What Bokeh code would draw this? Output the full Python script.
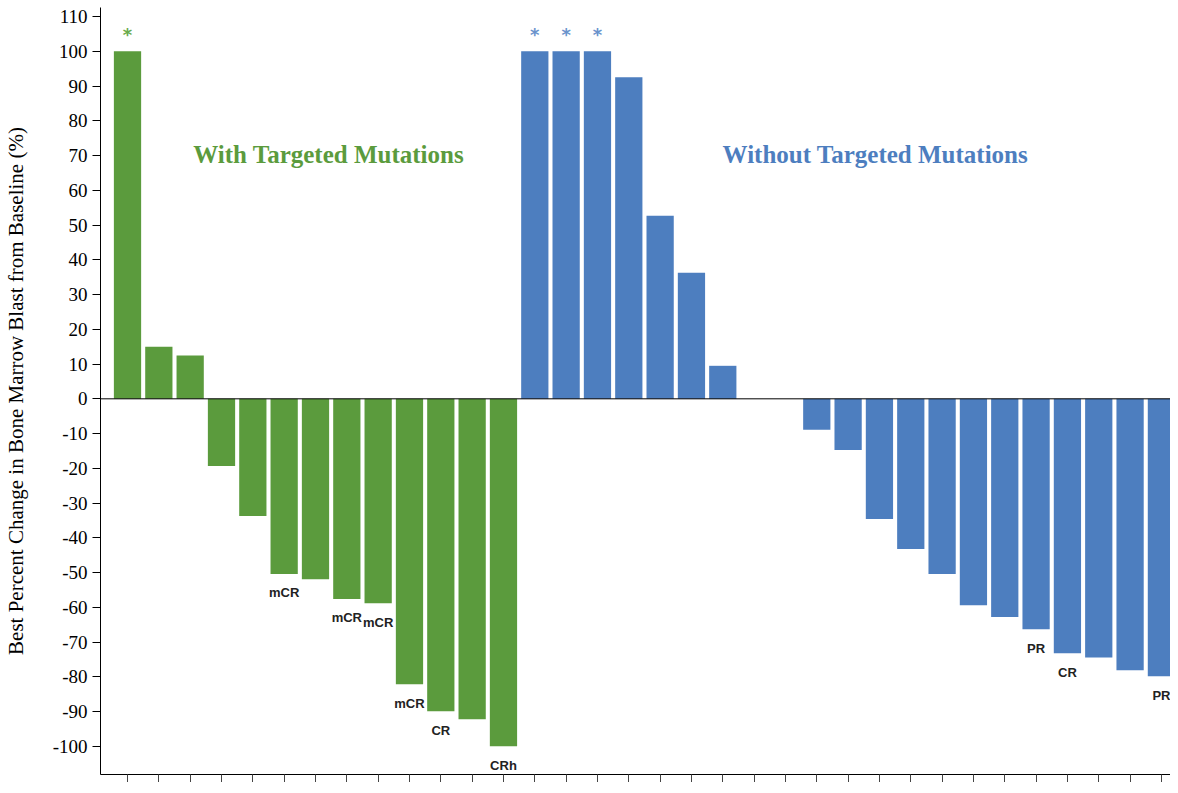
from bokeh.plotting import figure
from bokeh.models import ColumnDataSource, FixedTicker, Span, Label, Range1d, CustomJSTickFormatter
from bokeh.core.properties import value
from bokeh.embed import file_html
from bokeh.resources import INLINE

# ---- data ----
green_vals = [100, 15, 12.5, -19.3, -33.7, -50.4, -51.9, -57.6, -58.8, -82.1, -89.9, -92.2, -100]
green_resp = ["", "", "", "", "", "mCR", "", "mCR", "mCR", "mCR", "CR", "", "CRh"]
green_star = [True] + [False] * 12

blue_vals = [100, 100, 100, 92.5, 52.7, 36.3, 9.5, None, None,
             -8.9, -14.7, -34.6, -43.2, -50.4, -59.4, -62.8, -66.3, -73.2, -74.4, -78.1, -79.8]
blue_resp = ["", "", "", "", "", "", "", "", "",
             "", "", "", "", "", "", "", "PR", "CR", "", "", "PR"]
blue_star = [True, True, True] + [False] * 18

y_ticks = list(range(-100, 111, 10))
group_titles = ["With Targeted Mutations", "Without Targeted Mutations"]
y_label = "Best Percent Change in Bone Marrow Blast from Baseline (%)"

GREEN = "#5b9b3d"
BLUE = "#4d7ebf"

# ---- build sources ----
def build(vals, resp, star, start):
    xs, ys, rs, sx, sy = [], [], [], [], []
    rx, ry = [], []
    for i, v in enumerate(vals):
        x = start + i
        if v is None:
            continue
        xs.append(x); ys.append(v)
        if resp[i]:
            rx.append(x); ry.append(v); rs.append(resp[i])
        if star[i]:
            sx.append(x); sy.append(v)
    return (ColumnDataSource(dict(x=xs, top=ys)),
            ColumnDataSource(dict(x=rx, y=ry, t=rs)),
            ColumnDataSource(dict(x=sx, y=sy, t=["*"] * len(sx))))

g_bars, g_resp, g_star = build(green_vals, green_resp, green_star, 1)
b_bars, b_resp, b_star = build(blue_vals, blue_resp, blue_star, 1 + len(green_vals))
n_total = len(green_vals) + len(blue_vals)

p = figure(frame_width=1070, frame_height=767, output_backend="svg", toolbar_location=None,
           x_range=Range1d(0.138, 34.29), y_range=Range1d(-108.1, 112.6),
           min_border_left=92, min_border_right=0, min_border_top=7, min_border_bottom=0,
           background_fill_color="white", border_fill_color="white")
p.outline_line_color = None
p.grid.visible = False

p.vbar(x="x", top="top", bottom=0, width=0.87, source=g_bars, fill_color=GREEN, line_color=None)
p.vbar(x="x", top="top", bottom=0, width=0.87, source=b_bars, fill_color=BLUE, line_color=None)

p.add_layout(Span(location=0, dimension="width", line_color="black", line_width=1))

for src in (g_resp, b_resp):
    p.text(x="x", y="y", text="t", source=src, y_offset=19, text_align="center",
           text_baseline="middle", text_font=value("Liberation Sans"), text_font_style="bold",
           text_font_size="13px", text_color="#222222")

p.text(x="x", y="y", text="t", source=g_star, y_offset=-17, text_align="center",
       text_baseline="middle", text_font=value("DejaVu Sans"), text_font_style="bold",
       text_font_size="18px", text_color="#6aab4c")
p.text(x="x", y="y", text="t", source=b_star, y_offset=-17, text_align="center",
       text_baseline="middle", text_font=value("DejaVu Sans"), text_font_style="bold",
       text_font_size="18px", text_color="#6a93cc")

p.add_layout(Label(x=7.42, y=70.2, text=group_titles[0], text_align="center", text_baseline="middle",
                   text_font="Liberation Serif", text_font_style="bold", text_font_size="25px",
                   text_color=GREEN))
p.add_layout(Label(x=24.87, y=70.2, text=group_titles[1], text_align="center", text_baseline="middle",
                   text_font="Liberation Serif", text_font_style="bold", text_font_size="25px",
                   text_color=BLUE))

# y axis
ya = p.yaxis[0]
ya.ticker = FixedTicker(ticks=y_ticks)
ya.formatter = CustomJSTickFormatter(code="return tick.toFixed(0)")
ya.minor_tick_line_color = None
ya.major_tick_in = 0
ya.major_tick_out = 8
ya.major_label_standoff = 5
ya.major_label_text_font = "Liberation Serif"
ya.major_label_text_font_size = "19px"
ya.major_label_text_color = "black"
ya.axis_line_color = "black"
ya.major_tick_line_color = "black"
ya.axis_label = y_label
ya.axis_label_text_font = "Liberation Serif"
ya.axis_label_text_font_style = "normal"
ya.axis_label_text_font_size = "21px"
ya.axis_label_text_color = "black"
ya.axis_label_standoff = 22

# x axis
xa = p.xaxis[0]
xa.ticker = FixedTicker(ticks=list(range(1, n_total + 1)))
xa.minor_tick_line_color = None
xa.major_tick_in = 0
xa.major_tick_out = 8
xa.major_label_standoff = 0
xa.major_label_text_font_size = "0px"
xa.formatter = CustomJSTickFormatter(code="return ''")
xa.axis_line_color = "black"
xa.major_tick_line_color = "#444444"

open("out.html", "w").write(file_html(p, INLINE))
